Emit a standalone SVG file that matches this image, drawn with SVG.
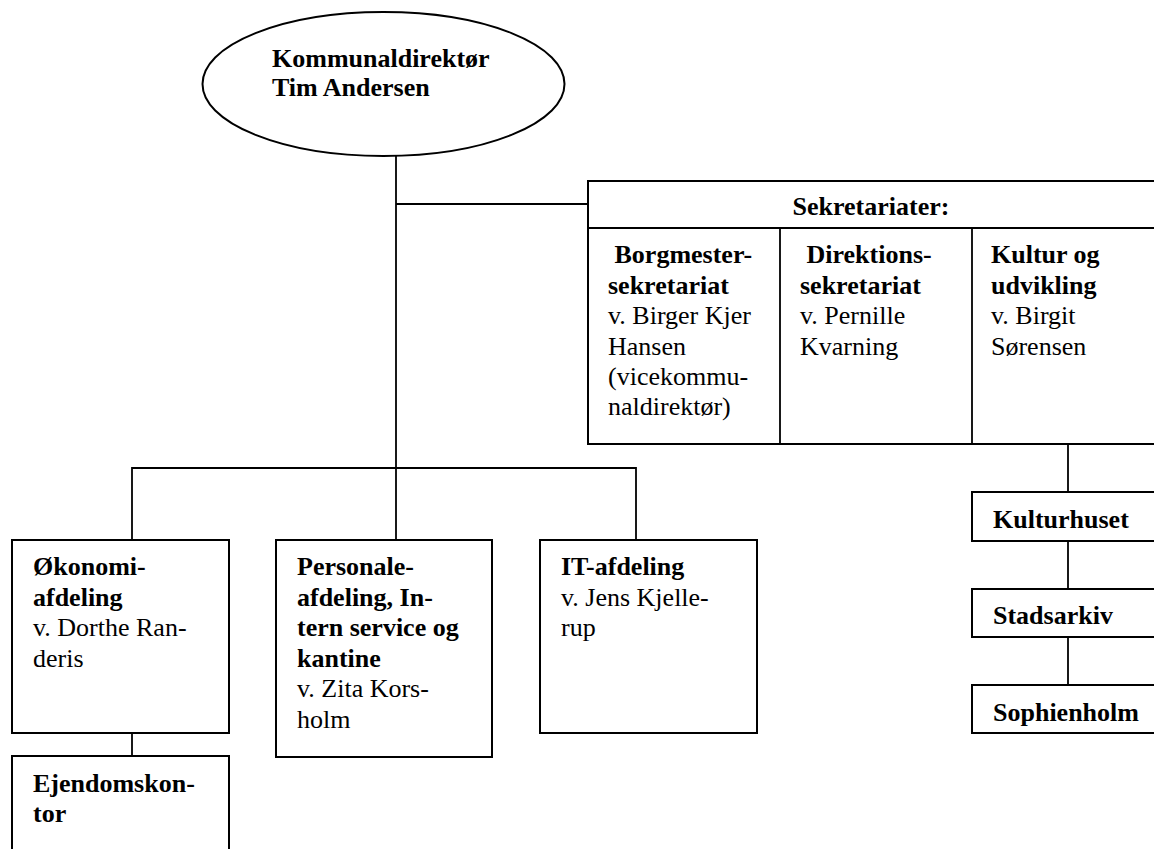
<svg xmlns="http://www.w3.org/2000/svg" width="1154" height="849" viewBox="0 0 1154 849">
<style>
.box{fill:#fff;stroke:#000;stroke-width:2}
.ln{fill:none;stroke:#000;stroke-width:1.8}
text{font-family:"Liberation Serif","Times New Roman",serif;font-size:26px;fill:#000}
.b{font-weight:bold}
</style>
<defs>
<clipPath id="clipStad"><rect x="972" y="589" width="190" height="35"/></clipPath>
<clipPath id="clipSoph"><rect x="972" y="685" width="190" height="41"/></clipPath>
</defs>
<rect width="1154" height="849" fill="#fff"/>
<g id="connectors">
<path class="ln" d="M396,156V540"/>
<path class="ln" d="M396,204H588"/>
<path class="ln" d="M132,540V468H636V540"/>
<path class="ln" d="M132,733V756"/>
<path class="ln" d="M1068,444V492"/>
<path class="ln" d="M1068,541V589"/>
<path class="ln" d="M1068,637V685"/>
</g>
<g id="kommunaldirektor">
<ellipse cx="383.5" cy="84" rx="181" ry="72" fill="#fff" stroke="#000" stroke-width="2"/>
<text class="b" x="272" y="67">Kommunaldirektør</text>
<text class="b" x="272" y="96">Tim Andersen</text>
</g>
<g id="sekretariater">
<rect class="box" x="588" y="181" width="580" height="263"/>
<path class="ln" d="M588,228H1168M780,228V444M972,228V444" stroke-width="2"/>
<text class="b" x="871" y="215" text-anchor="middle">Sekretariater:</text>
</g>
<g id="borgmestersekretariat">
<text class="b" x="608" y="263" xml:space="preserve"> Borgmester-</text>
<text class="b" x="608" y="293.5">sekretariat</text>
<text x="608" y="324">v. Birger Kjer</text>
<text x="608" y="354.5">Hansen</text>
<text x="608" y="385">(vicekommu-</text>
<text x="608" y="415">naldirektør)</text>
</g>
<g id="direktionssekretariat">
<text class="b" x="800" y="263" xml:space="preserve"> Direktions-</text>
<text class="b" x="800" y="293.5">sekretariat</text>
<text x="800" y="324">v. Pernille</text>
<text x="800" y="354.5">Kvarning</text>
</g>
<g id="kulturogudvikling">
<text class="b" x="991" y="263">Kultur og</text>
<text class="b" x="991" y="293.5">udvikling</text>
<text x="991" y="324">v. Birgit</text>
<text x="991" y="354.5">Sørensen</text>
</g>
<g id="okonomi">
<rect class="box" x="12" y="540" width="217" height="193"/>
<text class="b" x="33" y="575">Økonomi-</text>
<text class="b" x="33" y="605.5">afdeling</text>
<text x="33" y="636">v. Dorthe Ran-</text>
<text x="33" y="666.5">deris</text>
</g>
<g id="personale">
<rect class="box" x="276" y="540" width="216" height="217"/>
<text class="b" x="297" y="575">Personale-</text>
<text class="b" x="297" y="605.5">afdeling, In-</text>
<text class="b" x="297" y="636">tern service og</text>
<text class="b" x="297" y="666.5">kantine</text>
<text x="297" y="697">v. Zita Kors-</text>
<text x="297" y="727.5">holm</text>
</g>
<g id="itafdeling">
<rect class="box" x="540" y="540" width="217" height="193"/>
<text class="b" x="561" y="575">IT-afdeling</text>
<text x="561" y="605.5">v. Jens Kjelle-</text>
<text x="561" y="636">rup</text>
</g>
<g id="ejendomskontor">
<rect class="box" x="12" y="756" width="217" height="120"/>
<text class="b" x="33" y="792">Ejendomskon-</text>
<text class="b" x="33" y="822">tor</text>
</g>
<g id="kulturhuset">
<rect class="box" x="972" y="492" width="200" height="49"/>
<text class="b" x="993" y="528">Kulturhuset</text>
</g>
<g id="stadsarkiv">
<rect class="box" x="972" y="589" width="200" height="48"/>
<text class="b" x="993" y="623.5" clip-path="url(#clipStad)">Stadsarkiv</text>
</g>
<g id="sophienholm">
<rect class="box" x="972" y="685" width="200" height="48"/>
<text class="b" x="993" y="721" clip-path="url(#clipSoph)">Sophienholm</text>
</g>
</svg>
